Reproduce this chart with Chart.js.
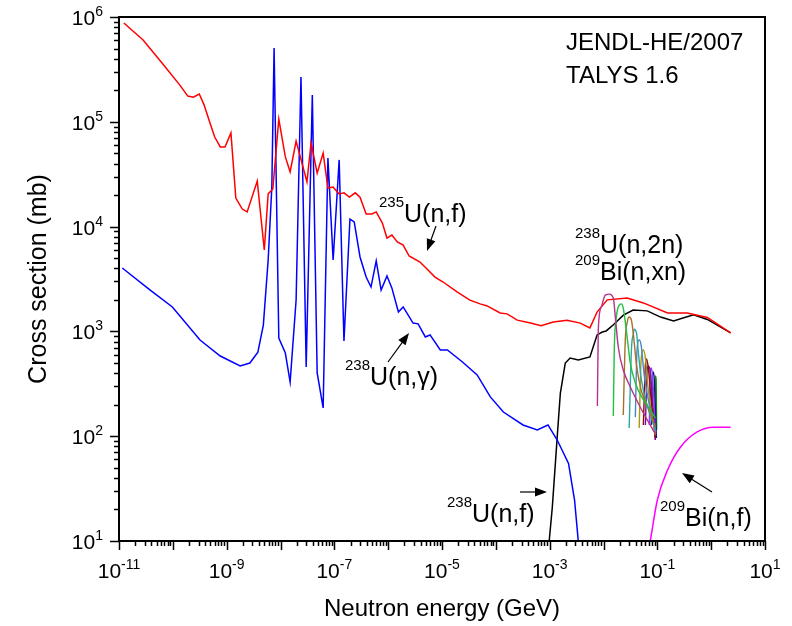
<!DOCTYPE html>
<html>
<head>
<meta charset="utf-8">
<script src="https://cdn.jsdelivr.net/npm/chart.js@4.4.0/dist/chart.umd.min.js"></script>
<style>
  html, body { margin: 0; padding: 0; background: #fff; }
</style>
</head>
<body>
<canvas id="xsChart" width="792" height="626"></canvas>
<script>
// Neutron energies in GeV, cross sections in mb

// 235U(n,f)
const u235fE = [1.23e-11, 2.8e-11, 6.3e-11, 1.35e-10, 1.9e-10, 2.4e-10, 3.1e-10, 3.8e-10, 4.9e-10, 6.0e-10, 7.6e-10, 9.3e-10,
  1.2e-9, 1.48e-9, 1.95e-9, 2.4e-9, 3.7e-9, 5.0e-9, 5.9e-9, 7.2e-9, 9.3e-9, 1.23e-8, 1.51e-8, 1.95e-8, 3.1e-8, 3.7e-8,
  4.8e-8, 6.2e-8, 7.6e-8, 9.5e-8, 1.23e-7, 1.51e-7, 1.9e-7, 2.45e-7, 3.0e-7, 3.9e-7, 5.0e-7, 6.0e-7, 7.8e-7, 9.5e-7,
  1.17e-6, 1.48e-6, 1.9e-6, 2.45e-6, 3.9e-6, 5.5e-6, 7.4e-6, 1.05e-5, 1.9e-5, 3.3e-5, 5.1e-5, 6.9e-5, 1.2e-4, 1.62e-4,
  2.5e-4, 4.4e-4, 6.9e-4, 1.17e-3, 2.1e-3, 3.7e-3, 5.6e-3, 7.6e-3, 1.17e-2, 2.75e-2, 5.5e-2, 0.155, 0.36, 0.85, 2.3]
const u235fXS = [877000, 604000, 364000, 224000, 176000, 172000, 184000, 145000, 97500, 71600, 57500, 57500,
  78200, 18700, 14700, 13800, 27200, 5980, 20500, 22900, 106000, 46200, 33200, 65600, 26700, 62800,
  32400, 50400, 23300, 23800, 20500, 21000, 19100, 21000, 19100, 13200, 13200, 13800, 10800, 7780,
  8310, 7130, 6670, 5240, 4590, 3850, 3300, 2960, 2380, 1990, 1830, 1750, 1500, 1470,
  1280, 1200, 1130, 1230, 1280, 1200, 1080, 1530, 2000, 2080, 1870, 1500, 1500, 1360, 966]

// 238U(n,gamma)
const u238gE = [1.15e-11, 3.8e-11, 9.8e-11, 3.2e-10, 7.6e-10, 1.78e-9, 2.7e-9, 3.8e-9, 4.8e-9, 5.9e-9, 6.9e-9, 7.6e-9,
  9.3e-9, 1.23e-8, 1.51e-8, 1.95e-8, 2.4e-8, 3.0e-8, 3.9e-8, 4.8e-8, 6.2e-8, 7.6e-8, 9.5e-8, 1.23e-7, 1.51e-7,
  1.95e-7, 2.34e-7, 3.0e-7, 3.9e-7, 4.8e-7, 6.0e-7, 7.4e-7, 9.5e-7, 1.17e-6, 1.55e-6, 1.9e-6, 2.9e-6, 3.6e-6,
  4.9e-6, 6.0e-6, 9.3e-6, 1.26e-5, 2.4e-5, 4.5e-5, 7.9e-5, 1.38e-4, 3.2e-4, 5.9e-4, 9.3e-4, 1.38e-3, 2.24e-3, 2.9e-3, 3.4e-3]
const u238gXS = [4030, 2480, 1710, 828, 582, 468, 499, 635, 1150, 4800, 23900, 506000,
  865, 622, 329, 1995, 267000, 457, 180000, 401, 186, 45200, 4800, 43300, 809,
  11800, 11100, 5130, 3300, 2650, 4700, 2480, 3380, 2600, 1530, 1710, 1200, 1180,
  885, 925, 664, 664, 511, 384, 237, 170, 128, 115, 128, 92, 55, 24.6, 10]

// 238U(n,f)
const u238fE = [9.8e-4, 1.12e-3, 1.38e-3, 1.58e-3, 1.95e-3, 2.4e-3, 3.4e-3, 5.6e-3, 7.6e-3, 9.5e-3, 1.12e-2,
  1.51e-2, 2.34e-2, 3.55e-2, 6.5e-2, 0.115, 0.2, 0.3, 0.47, 0.85, 2.3]
const u238fXS = [10, 21, 98, 258, 499, 557, 533, 570, 925, 987, 1010,
  1150, 1430, 1600, 1570, 1370, 1260, 1340, 1440, 1300, 966]

// 209Bi(n,f)
const bi209fE = [7.4e-2, 0.1, 0.155, 0.27, 0.55, 1.1, 2.3]
const bi209fXS = [10, 24.6, 47.6, 79, 110, 122, 122]

// 209Bi(n,xn), x = 2 ... 12
const bi2E = [7.7e-3, 8.0e-3, 9.1e-3, 1.08e-2, 1.28e-2, 1.52e-2, 1.66e-2, 1.88e-2, 2.33e-2, 3.15e-2, 4.8e-2, 6.5e-2, 9.2e-2]
const bi2XS = [194, 1030, 1710, 2220, 2270, 2080, 1370, 710, 428, 295, 190, 143, 105]
const bi3E = [1.52e-2, 1.59e-2, 1.73e-2, 1.88e-2, 2.14e-2, 2.33e-2, 2.65e-2, 3.15e-2, 3.9e-2, 5.5e-2, 7.4e-2, 9.2e-2]
const bi3XS = [156, 710, 1370, 1710, 1830, 1670, 1030, 499, 322, 222, 178, 149]
const bi4E = [2.33e-2, 2.54e-2, 2.77e-2, 3.0e-2, 3.3e-2, 3.6e-2, 4.1e-2, 5.0e-2, 6.8e-2, 9.2e-2]
const bi4XS = [159, 828, 1230, 1370, 1280, 925, 478, 276, 186, 122]
const bi5E = [3.0e-2, 3.3e-2, 3.6e-2, 3.7e-2, 4.1e-2, 4.4e-2, 5.0e-2, 6.3e-2, 9.2e-2]
const bi5XS = [120, 665, 966, 1050, 966, 665, 359, 207, 115]
const bi6E = [3.9e-2, 4.2e-2, 4.6e-2, 5.0e-2, 5.7e-2, 7.1e-2, 9.2e-2]
const bi6XS = [152, 665, 828, 741, 384, 199, 110]
const bi7E = [4.6e-2, 5.0e-2, 5.5e-2, 6.0e-2, 6.8e-2, 9.2e-2]
const bi7XS = [120, 533, 665, 557, 276, 103]
const bi8E = [5.5e-2, 6.0e-2, 6.3e-2, 6.8e-2, 7.7e-2, 9.2e-2]
const bi8XS = [128, 478, 546, 448, 221, 96]
const bi9E = [6.0e-2, 6.5e-2, 6.8e-2, 7.4e-2, 8.1e-2, 9.2e-2]
const bi9XS = [128, 428, 468, 410, 221, 92]
const bi10E = [7.1e-2, 7.4e-2, 7.7e-2, 8.1e-2, 8.8e-2, 9.2e-2]
const bi10XS = [128, 410, 448, 384, 178, 92]
const bi11E = [7.7e-2, 8.1e-2, 8.4e-2, 8.8e-2, 9.2e-2, 9.6e-2]
const bi11XS = [128, 375, 410, 344, 178, 96]
const bi12E = [8.8e-2, 9.2e-2, 9.5e-2, 9.7e-2]
const bi12XS = [143, 375, 344, 115]

const biColors = ['#b5338a', '#22c23c', '#a8702a', '#2ea6a6', '#4b86c4', '#a89a10',
  '#8b0a0a', '#7a0aa0', '#8a3cff', '#10108a', '#0a8a0a']

// tick labels (powers of ten)
const xLabelExps = [-11, -9, -7, -5, -3, -1, 1]
const yLabelExps = [1, 2, 3, 4, 5, 6]

const FONT = '"Liberation Sans", Arial, Helvetica, sans-serif'

function pts(xs, ys) {
  return xs.map((x, i) => ({ x: x, y: ys[i] }))
}

function line(data, color, extra) {
  return Object.assign({
    data: data,
    borderColor: color,
    borderWidth: 1.5,
    pointRadius: 0,
    fill: false,
    tension: 0,
    order: 1
  }, extra || {})
}

const biSets = [
  [bi2E, bi2XS], [bi3E, bi3XS], [bi4E, bi4XS], [bi5E, bi5XS], [bi6E, bi6XS], [bi7E, bi7XS],
  [bi8E, bi8XS], [bi9E, bi9XS], [bi10E, bi10XS], [bi11E, bi11XS], [bi12E, bi12XS]
].map((s, i) => line(pts(s[0], s[1]), biColors[i], { cubicInterpolationMode: 'monotone', order: 0, borderWidth: 1.4 }))

const datasets = [
  line(pts(u235fE, u235fXS), '#ff0000'),
  line(pts(u238gE, u238gXS), '#0000ff'),
  line(pts(u238fE, u238fXS), '#000000'),
  line(pts(bi209fE, bi209fXS), '#ff00ff', { cubicInterpolationMode: 'monotone' })
].concat(biSets)

// text with a leading or trailing superscript part
function richText(ctx, parts, x, y, size, supSize, rise) {
  let cx = x
  parts.forEach(p => {
    ctx.font = (p[1] ? supSize : size) + 'px ' + FONT
    ctx.fillText(p[0], cx, p[1] ? y - rise : y)
    cx += ctx.measureText(p[0]).width
  })
  return cx - x
}

function richWidth(ctx, parts, size, supSize) {
  let w = 0
  parts.forEach(p => {
    ctx.font = (p[1] ? supSize : size) + 'px ' + FONT
    w += ctx.measureText(p[0]).width
  })
  return w
}

function arrow(ctx, x1, y1, x2, y2) {
  const a = Math.atan2(y2 - y1, x2 - x1)
  const len = 12, hw = 4.5
  ctx.beginPath()
  ctx.moveTo(x1, y1)
  ctx.lineTo(x2 - Math.cos(a) * len * 0.8, y2 - Math.sin(a) * len * 0.8)
  ctx.stroke()
  ctx.beginPath()
  ctx.moveTo(x2, y2)
  ctx.lineTo(x2 - Math.cos(a) * len - Math.sin(a) * hw, y2 - Math.sin(a) * len + Math.cos(a) * hw)
  ctx.lineTo(x2 - Math.cos(a) * len + Math.sin(a) * hw, y2 - Math.sin(a) * len - Math.cos(a) * hw)
  ctx.closePath()
  ctx.fill()
}

const annotations = [
  { parts: [['235', true], ['U(n,f)', false]], x: 379, y: 222 },
  { parts: [['238', true], ['U(n,\u03b3)', false]], x: 345, y: 385 },
  { parts: [['238', true], ['U(n,2n)', false]], x: 575, y: 253 },
  { parts: [['209', true], ['Bi(n,xn)', false]], x: 575, y: 280 },
  { parts: [['238', true], ['U(n,f)', false]], x: 447, y: 522 },
  { parts: [['209', true], ['Bi(n,f)', false]], x: 660, y: 526 }
]

const arrows = [
  [436, 226, 427, 251],
  [388, 362, 409, 333],
  [520, 492, 547, 492],
  [712, 492, 682, 473]
]

// frame, log ticks, labels and texts
const decor = {
  id: 'decor',
  afterDraw(chart) {
    const ctx = chart.ctx
    const area = chart.chartArea
    const xs = chart.scales.x
    const ys = chart.scales.y
    ctx.save()
    ctx.strokeStyle = '#000'
    ctx.fillStyle = '#000'

    // ticks
    ctx.lineWidth = 1.5
    ctx.beginPath()
    for (let e = -11; e <= 1; e++) {
      for (let m = 1; m <= (e === 1 ? 1 : 9); m++) {
        const px = Math.round(xs.getPixelForValue(m * Math.pow(10, e))) + 0.5
        ctx.moveTo(px, area.bottom)
        ctx.lineTo(px, area.bottom + (m === 1 ? 9 : 5))
      }
    }
    for (let e = 1; e <= 6; e++) {
      for (let m = 1; m <= (e === 6 ? 1 : 9); m++) {
        const py = Math.round(ys.getPixelForValue(m * Math.pow(10, e))) + 0.5
        ctx.moveTo(area.left, py)
        ctx.lineTo(area.left - (m === 1 ? 9 : 5), py)
      }
    }
    ctx.stroke()

    // frame
    ctx.lineWidth = 2
    ctx.strokeRect(area.left, area.top, area.right - area.left, area.bottom - area.top)

    // tick labels
    ctx.textBaseline = 'alphabetic'
    ctx.textAlign = 'left'
    xLabelExps.forEach(e => {
      const parts = [['10', false], [String(e), true]]
      const w = richWidth(ctx, parts, 21, 14)
      const px = xs.getPixelForValue(Math.pow(10, e))
      richText(ctx, parts, px - w / 2, area.bottom + 37, 21, 14, 9)
    })
    yLabelExps.forEach(e => {
      const parts = [['10', false], [String(e), true]]
      const w = richWidth(ctx, parts, 21, 14)
      const py = ys.getPixelForValue(Math.pow(10, e))
      richText(ctx, parts, area.left - 16 - w, py + 8, 21, 14, 9)
    })

    // axis titles
    ctx.font = '24px ' + FONT
    ctx.textAlign = 'center'
    ctx.fillText('Neutron energy (GeV)', (area.left + area.right) / 2, 616)
    ctx.save()
    ctx.translate(46, (area.top + area.bottom) / 2)
    ctx.rotate(-Math.PI / 2)
    ctx.font = '25px ' + FONT
    ctx.fillText('Cross section (mb)', 0, 0)
    ctx.restore()

    // header text
    ctx.textAlign = 'left'
    ctx.font = '24px ' + FONT
    ctx.fillText('JENDL-HE/2007', 566, 50)
    ctx.fillText('TALYS 1.6', 566, 83)

    // reaction labels
    annotations.forEach(a => richText(ctx, a.parts, a.x, a.y, 25, 15, 15))
    ctx.lineWidth = 1.2
    arrows.forEach(a => arrow(ctx, a[0], a[1], a[2], a[3]))
    ctx.restore()
  }
}

new Chart(document.getElementById('xsChart'), {
  type: 'line',
  data: { datasets: datasets },
  options: {
    responsive: false,
    animation: false,
    layout: { padding: { left: 119, right: 27, top: 17, bottom: 85 } },
    plugins: { legend: { display: false }, tooltip: { enabled: false } },
    scales: {
      x: { type: 'logarithmic', min: 1e-11, max: 10, display: false },
      y: { type: 'logarithmic', min: 10, max: 1e6, display: false }
    }
  },
  plugins: [decor]
})
</script>
</body>
</html>
